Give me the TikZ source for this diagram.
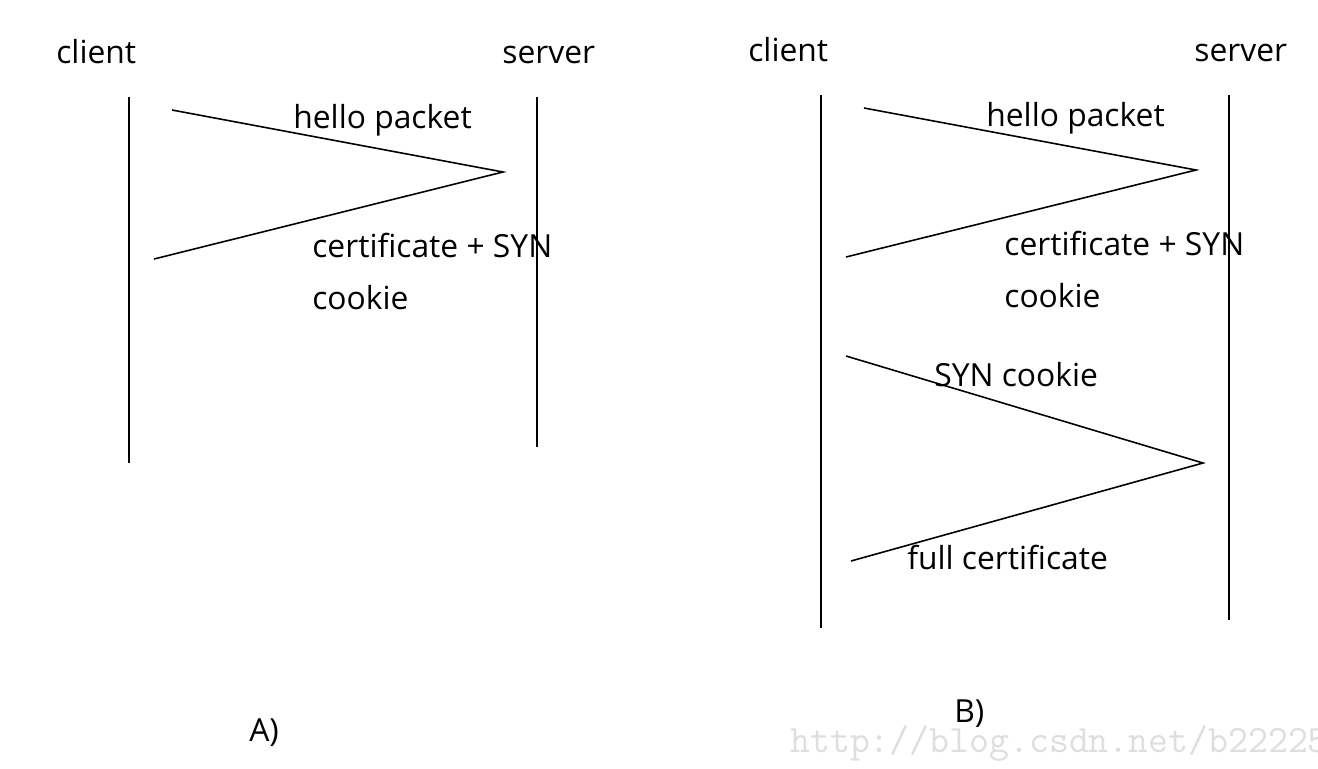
\documentclass[tikz,border=0pt]{standalone}
\usepackage{fontspec}
\setmainfont{Open Sans}
\begin{document}
\begin{tikzpicture}[x=0.02cm,y=-0.02cm,
  lbl/.style={inner sep=0pt, anchor=base west, font=\fontsize{18.1}{22}\selectfont, text=black},
  life/.style={line width=1.1pt, black},
  msg/.style={line width=0.9pt, black},
  wm/.style={inner sep=0pt, anchor=base west, font=\ttfamily\fontsize{22}{26}\selectfont, text=black!13}]
\useasboundingbox (0,0) rectangle (1318,768);
\fill[white] (0,0) rectangle (1318,768);
% ---------- Panel A ----------
\node[lbl] (ca) at (56,63) {client};
\node[lbl] (sa) at (502,63) {server};
\coordinate (ca1) at (129,97);  \coordinate (ca2) at (129,463);
\coordinate (sa1) at (537,97);  \coordinate (sa2) at (537,447);
\draw[life] (ca1) -- (ca2);
\draw[life] (sa1) -- (sa2);
\coordinate (a1) at (172,110); \coordinate (a2) at (503,172); \coordinate (a3) at (154,259);
\draw[msg] (a1) -- (a2) -- (a3);
\node[lbl] (ha) at (293,128) {hello packet};
\node[lbl] (cfa) at (312,257) {certificate + SYN};
\node[lbl] (cka) at (312,309) {cookie};
\node[lbl] (la) at (249,741) {A)};
% ---------- Panel B ----------
\node[lbl] (cb) at (748,61) {client};
\node[lbl] (sb) at (1194,61) {server};
\coordinate (cb1) at (821,95);  \coordinate (cb2) at (821,628);
\coordinate (sb1) at (1229,95); \coordinate (sb2) at (1229,620);
\draw[life] (cb1) -- (cb2);
\draw[life] (sb1) -- (sb2);
\coordinate (b1) at (864,108); \coordinate (b2) at (1196,170); \coordinate (b3) at (846,257);
\draw[msg] (b1) -- (b2) -- (b3);
\coordinate (b4) at (846,356); \coordinate (b5) at (1203,463); \coordinate (b6) at (851,561);
\draw[msg] (b4) -- (b5) -- (b6);
\node[lbl] (hb) at (986,126) {hello packet};
\node[lbl] (cfb) at (1004,255) {certificate + SYN};
\node[lbl] (ckb) at (1004,307) {cookie};
\node[lbl] (syn) at (934,386) {SYN cookie};
\node[lbl] (full) at (907,569) {full certificate};
\node[lbl] (lb) at (954,722) {B)};
% ---------- watermark ----------
\begin{scope}
\clip (0,0) rectangle (1318,768);
\node[wm] (wmk) at (790,752) {http://blog.csdn.net/b22225};
\end{scope}
\end{tikzpicture}
\end{document}
